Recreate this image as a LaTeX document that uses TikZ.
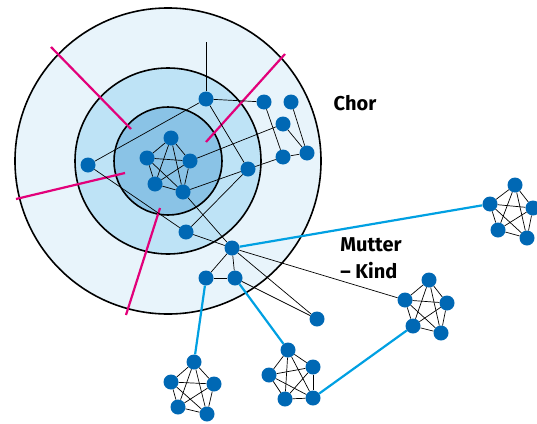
\documentclass[tikz,border=0pt]{standalone}
\usepackage{fontspec}
\setmainfont{Fira Sans}
\usetikzlibrary{arrows}
\definecolor{dotblue}{RGB}{0,104,180}
\definecolor{linkblue}{RGB}{0,160,226}
\definecolor{cutpink}{RGB}{226,0,122}
\definecolor{outerfill}{RGB}{232,244,251}
\definecolor{midfill}{RGB}{190,227,246}
\definecolor{innerfill}{RGB}{138,195,230}
\tikzstyle{dot} = [circle, fill=dotblue, inner sep=0pt, minimum size=15pt]
\tikzstyle{tie} = [line width=0.7pt]
\tikzstyle{bridge} = [line width=2.2pt, linkblue]
\tikzstyle{cut} = [line width=2.2pt, cutpink]
\tikzstyle{ring} = [line width=1.6pt]
\tikzstyle{label} = [font=\fontsize{20}{27}\selectfont\bfseries, align=left]

\begin{document}
\begin{tikzpicture}[x=1pt, y=-1pt]
            \useasboundingbox (0,0) rectangle (537,423);
            % circles
            \draw[ring, fill=outerfill] (168,161) circle (153pt);
            \draw[ring, fill=midfill] (168,161) circle (93pt);
            \draw[ring, fill=innerfill] (168,161) circle (54pt);
            \draw[cut] (51,47) -- (131,129);
            \draw[cut] (285,54) -- (206,142);
            \draw[cut] (16,199) -- (125,173);
            \draw[cut] (126,315) -- (160,208);
            % core
            \node[dot] (c1) at (171,138) {};
            \node[dot] (c2) at (147,158) {};
            \node[dot] (c3) at (190,161) {};
            \node[dot] (c4) at (155,184) {};
            \node[dot] (c5) at (183,192) {};
            % members
            \coordinate (top) at (206,42);
            \node[dot] (a) at (206,99) {};
            \node[dot] (b) at (264,102) {};
            \node[dot] (c) at (291,102) {};
            \node[dot] (d) at (283,124) {};
            \node[dot] (e) at (307,153) {};
            \node[dot] (f) at (283,157) {};
            \node[dot] (g) at (248,169) {};
            \node[dot] (h) at (88,165) {};
            \node[dot] (i) at (186,232) {};
            \node[dot] (j) at (232,248) {};
            \node[dot] (k) at (206,278) {};
            \node[dot] (l) at (235,278) {};
            \node[dot] (m) at (317,319) {};
            % groups
            \node[dot] (r1) at (515,185) {};
            \node[dot] (r2) at (490,204) {};
            \node[dot] (r3) at (533,208) {};
            \node[dot] (r4) at (498,230) {};
            \node[dot] (r5) at (527,238) {};
            \node[dot] (u1) at (429,280) {};
            \node[dot] (u2) at (405,300) {};
            \node[dot] (u3) at (447,303) {};
            \node[dot] (u4) at (413,326) {};
            \node[dot] (u5) at (441,333) {};
            \node[dot] (v1) at (288,350) {};
            \node[dot] (v2) at (269,375) {};
            \node[dot] (v3) at (313,367) {};
            \node[dot] (v4) at (285,399) {};
            \node[dot] (v5) at (313,398) {};
            \node[dot] (w1) at (194,362) {};
            \node[dot] (w2) at (171,382) {};
            \node[dot] (w3) at (214,384) {};
            \node[dot] (w4) at (178,407) {};
            \node[dot] (w5) at (207,414) {};
            % edges
            \foreach \g in {c,r,u,v,w}
                \foreach \s/\t in {1/2,1/3,1/4,1/5,2/3,2/4,2/5,3/4,3/5,4/5}
                    \draw[tie] (\g\s) -- (\g\t);
            \draw[tie] (a) -- (top);
            \draw[tie] (a) -- (b);
            \draw[tie] (a) -- (h);
            \draw[tie] (a) -- (g);
            \draw[tie] (b) -- (f);
            \draw[tie] (c) -- (e);
            \draw[tie] (d) -- (e);
            \draw[tie] (d) -- (c3);
            \draw[tie] (f) -- (e);
            \draw[tie] (g) -- (f);
            \draw[tie] (g) -- (c5);
            \draw[tie] (g) -- (i);
            \draw[tie] (h) -- (i);
            \draw[tie] (i) -- (j);
            \draw[tie] (c5) -- (j);
            \draw[tie] (j) -- (k);
            \draw[tie] (j) -- (l);
            \draw[tie] (k) -- (l);
            \draw[tie] (j) -- (m);
            \draw[tie] (l) -- (m);
            \draw[tie] (j) -- (u2);
            \draw[bridge] (j) -- (r2);
            \draw[bridge] (k) -- (w1);
            \draw[bridge] (l) -- (v1);
            \draw[bridge] (v5) -- (u4);
            % labels
            \node[label] (chor) at (355,103) {Chor};
            \node[label] (mk) at (371,258) {Mutter\\– Kind};
        \end{tikzpicture}
\end{document}
